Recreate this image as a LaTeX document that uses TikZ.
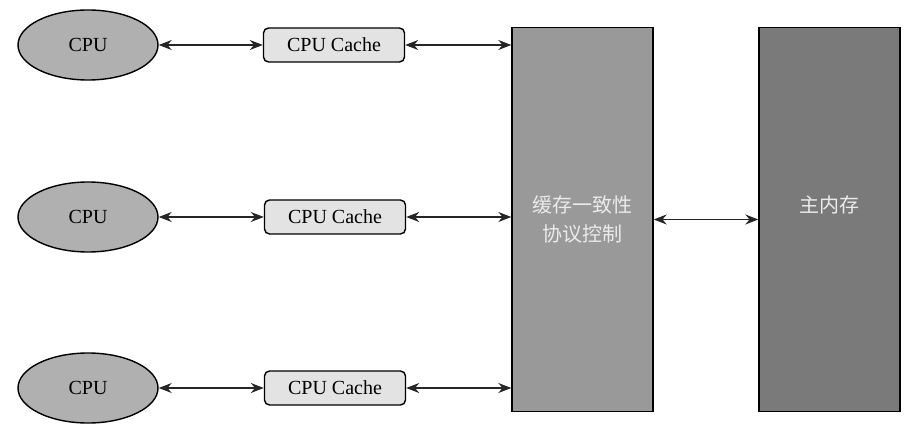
\documentclass[tikz,border=0pt]{standalone}
\usepackage{fontspec}
\setmainfont{Liberation Serif}
\newfontfamily\cjk{Noto Sans CJK SC}
\usetikzlibrary{shapes.geometric,arrows.meta}
\begin{document}
\begin{tikzpicture}[x=0.5pt, y=-0.5pt, every node/.style={font=\fontsize{10}{12}\selectfont}]
  \tikzstyle{cpu}=[draw,ellipse,fill=gray!62,minimum width=70pt,minimum height=35pt,inner sep=0pt,line width=0.7pt]
  \tikzstyle{cache}=[draw,rounded corners=2.5pt,fill=gray!22,minimum width=70.5pt,minimum height=17pt,inner sep=0pt,line width=0.7pt]
  \tikzstyle{bigbox}=[draw,minimum width=70.5pt,minimum height=192pt,inner sep=0pt,line width=0.7pt,align=center,text=white!92!black,font=\cjk\fontsize{10}{14.5}\selectfont]
  \tikzstyle{link}=[{Stealth[length=6.5pt,width=5pt]}-{Stealth[length=6.5pt,width=5pt]},semithick,black!85]
  \useasboundingbox (0,0) rectangle (919,438);
  \node[cpu] (cpu1) at (88,45) {CPU};
  \node[cpu] (cpu2) at (88,217) {CPU};
  \node[cpu] (cpu3) at (88,388) {CPU};
  \node[cache] (cache1) at (334,45) {CPU Cache};
  \node[cache] (cache2) at (335,217) {CPU Cache};
  \node[cache] (cache3) at (335,388) {CPU Cache};
  \node[bigbox,fill=gray!80] (mesi) at (582.5,219.5) {缓存一致性\\协议控制};
  \node[bigbox,fill=gray!90!black!95] (mem) at (829.5,219.5) {主内存\\\phantom{主}};
  \draw[link] (cpu1) -- (cache1);
  \draw[link] (cpu2) -- (cache2);
  \draw[link] (cpu3) -- (cache3);
  \draw[link] (cache1.east) -- (cache1.east -| mesi.west);
  \draw[link] (cache2.east) -- (cache2.east -| mesi.west);
  \draw[link] (cache3.east) -- (cache3.east -| mesi.west);
  \draw[link] (mesi) -- (mem);
\end{tikzpicture}
\end{document}
